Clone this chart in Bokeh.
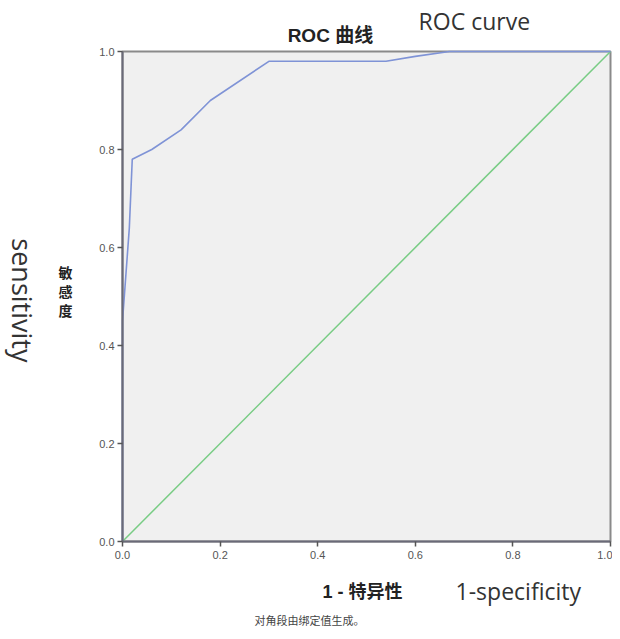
from bokeh.plotting import figure
from bokeh.models import Range1d, Label, FixedTicker, NumeralTickFormatter
from bokeh.embed import file_html
from bokeh.resources import INLINE

# ROC curve points (1 - specificity, sensitivity)
fpr = [0.0, 0.0, 0.014, 0.02, 0.06, 0.12, 0.18, 0.30, 0.54, 0.60, 0.67, 1.0]
tpr = [0.0, 0.45, 0.64, 0.78, 0.80, 0.84, 0.90, 0.98, 0.98, 0.99, 1.0, 1.0]
# reference diagonal
diag_x = [0.0, 1.0]
diag_y = [0.0, 1.0]
ticks = [0.0, 0.2, 0.4, 0.6, 0.8, 1.0]

W, H = 612, 631
L, R, T, B = 122, 2, 51, 90          # pixel margins around the unit square
sx = (W - L - R)
sy = (H - T - B)

p = figure(width=W, height=H, output_backend="svg", toolbar_location=None,
           x_range=Range1d(-L / sx, 1 + R / sx), y_range=Range1d(-B / sy, 1 + T / sy),
           min_border=0)

p.background_fill_color = "white"
p.border_fill_color = "white"
p.outline_line_color = None
p.xgrid.visible = False
p.ygrid.visible = False

# plot area
p.quad(left=[0], right=[1], bottom=[0], top=[1], fill_color="#f0f0f0",
       line_color="#8a8a8a", line_width=2)

for ax in (p.xaxis[0], p.yaxis[0]):
    ax.fixed_location = 0
    ax.bounds = (0, 1)
    ax.ticker = FixedTicker(ticks=ticks)
    ax.formatter = NumeralTickFormatter(format="0.0")
    ax.axis_line_color = "#6a6a78"
    ax.axis_line_width = 2
    ax.major_tick_line_color = "#555555"
    ax.major_tick_line_width = 1.5
    ax.major_tick_out = 5
    ax.major_tick_in = 0
    ax.minor_tick_line_color = None
    ax.major_label_text_font = "Liberation Sans"
    ax.major_label_text_font_size = "11px"
    ax.major_label_text_color = "#555555"
p.xaxis.major_label_standoff = 4
p.yaxis.major_label_standoff = 3

p.line(diag_x, diag_y, line_color="#78cc84", line_width=1.5)
p.line(fpr, tpr, line_color="#7f93d6", line_width=1.6)

def lab(x, y, text, size, bold=False, font="Liberation Sans", color="#222222", angle=0.0,
        line_height=1.2):
    p.add_layout(Label(x=x, y=y, text=text, text_font=font, text_font_size=size,
                       text_font_style="bold" if bold else "normal", text_color=color,
                       angle=angle, text_align="center", text_baseline="middle",
                       text_line_height=line_height))

lab(0.426, 1.033, "ROC 曲线", "19px", bold=True, font="Liberation Sans, Noto Sans CJK SC")
lab(0.721, 1.062, "ROC curve", "23px", color="#333333", font="Open Sans")
lab(-0.205, 0.492, "sensitivity", "27px", color="#333333", font="Open Sans", angle=-1.5708)
lab(-0.117, 0.512, "敏\n感\n度", "14px", bold=True, font="Noto Sans CJK SC", line_height=0.95)
lab(0.492, -0.104, "1 - 特异性", "18px", bold=True, font="Liberation Sans, Noto Sans CJK SC")
lab(0.811, -0.100, "1-specificity", "23px", color="#333333", font="Open Sans")
lab(0.383, -0.160, "对角段由绑定值生成。", "11px", color="#444444", font="Noto Sans CJK SC")

open("out.html", "w").write(file_html(p, INLINE))
